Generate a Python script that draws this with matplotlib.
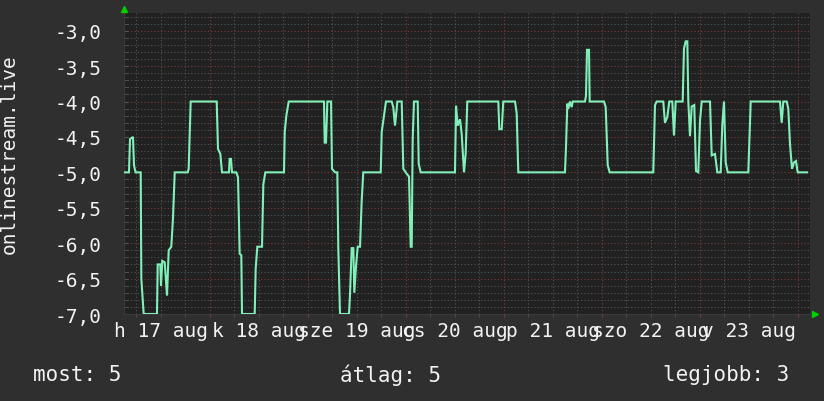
import numpy as np
import matplotlib
matplotlib.use('Agg')
import matplotlib.pyplot as plt
from matplotlib.ticker import MultipleLocator, FixedLocator, NullFormatter
import matplotlib.transforms as mtransforms

# colours (rrdtool dark look)
BG = '#2f2f2f'
CANVAS = '#212121'
LINE = '#80f0b8'
GRID_MINOR = '#555555'
GRID_MAJOR = '#7a3a3a'
TXT = '#f2f2f2'
ARROW = '#00d000'

plt.rcParams['font.family'] = ['DejaVu Sans Mono']

# data: hours since start of graph (start = 17 aug 02:56), value
START_H = 2.94
hours = [0.24, 1.22, 1.47, 2.2, 2.45, 2.82, 4.09, 4.24, 4.82, 8.08, 8.25, 8.89, 9.06, 9.38,
         9.97, 10.53, 10.95, 11.58, 12.0, 12.42, 15.6, 15.84, 16.33, 22.7, 23.02, 23.59,
         24.0, 25.71, 25.88, 26.2, 26.45, 27.5, 27.92, 28.33, 28.73, 28.9, 32.01, 32.25,
         32.65, 33.8, 34.12, 34.61, 39.18, 39.36, 39.75, 40.34, 48.98, 49.15, 49.47, 49.8,
         50.7, 50.94, 51.68, 52.24, 52.48, 52.9, 55.1, 55.35, 55.76, 56.16, 56.4, 56.82,
         57.23, 57.8, 58.21, 58.6, 62.87, 63.11, 63.67, 64.16, 65.56, 65.95, 66.37, 66.79,
         66.93, 68.01, 68.4, 69.23, 69.8, 70.21, 70.46, 70.7, 71.02, 71.93, 72.17, 72.66,
         81.06, 81.31, 81.72, 82.29, 82.7, 83.27, 83.67, 84.07, 91.67, 91.91, 92.5, 92.89,
         95.76, 96.17, 96.56, 108.0, 108.24, 108.57, 108.81, 109.22, 109.64, 109.89, 112.9,
         113.14, 113.39, 113.88, 114.05, 117.55, 117.97, 118.46, 118.95, 129.62, 130.04,
         130.45, 132.07, 132.48, 133.05, 133.54, 134.28, 134.69, 135.11, 136.82, 137.14,
         137.56, 137.95, 138.2, 138.61, 139.03, 139.66, 140.08, 140.64, 141.06, 141.48,
         143.51, 143.93, 144.73, 145.3, 146.13, 146.52, 146.94, 147.36, 147.85, 152.89,
         153.14, 153.48, 160.65, 161.07, 161.46, 162.29, 162.68, 163.1, 163.59, 164.08,
         164.57, 164.99, 167.27]
values = [-5.0, -5.0, -4.53, -4.5, -4.9, -5.0, -5.0, -6.5, -7.0, -7.0, -6.3, -6.3, -6.6, -6.25,
          -6.27, -6.74, -6.1, -6.05, -5.65, -5.0, -5.0, -4.95, -4.0, -4.0, -4.67, -4.74,
          -5.0, -5.0, -4.81, -4.81, -5.0, -5.0, -5.07, -6.15, -6.17, -7.0, -7.0, -6.36,
          -6.05, -6.05, -5.17, -5.0, -5.0, -4.43, -4.2, -4.0, -4.0, -4.58, -4.58, -4.0,
          -4.0, -4.95, -5.0, -5.0, -6.07, -7.0, -7.0, -6.72, -6.07, -6.07, -6.7, -6.32,
          -6.05, -6.05, -5.4, -5.0, -5.0, -4.43, -4.2, -4.0, -4.0, -4.08, -4.34, -4.1,
          -4.0, -4.0, -4.95, -5.02, -5.06, -6.05, -6.05, -4.53, -4.0, -4.0, -4.88, -5.0,
          -5.0, -4.06, -4.34, -4.25, -4.46, -5.0, -4.74, -4.0, -4.0, -4.39, -4.39, -4.0,
          -4.0, -4.17, -5.0, -5.0, -4.65, -4.03, -4.1, -4.0, -4.08, -4.0, -4.0,
          -3.92, -3.27, -3.27, -4.0, -4.0, -4.08, -4.9, -5.0, -5.0, -4.05,
          -4.0, -4.0, -4.3, -4.22, -4.0, -4.0, -4.48, -4.0, -4.0, -3.25,
          -3.15, -3.15, -4.0, -4.49, -4.07, -4.05, -4.98, -5.0, -4.27, -4.0,
          -4.0, -4.76, -4.74, -5.0, -5.0, -4.33, -4.0, -4.86, -5.0, -5.0,
          -4.58, -4.0, -4.0, -4.3, -4.0, -4.0, -4.1, -4.6, -4.95, -4.86,
          -4.84, -5.0, -5.0]

day_labels = ['h 17 aug', 'k 18 aug', 'sze 19 aug', 'cs 20 aug',
              'p 21 aug', 'szo 22 aug', 'v 23 aug']
legend_texts = ['most: 5', 'átlag: 5', 'legjobb: 3']

W, H = 824, 402
fig = plt.figure(figsize=(W / 100, H / 100), dpi=100, facecolor=BG)
ax = fig.add_axes([124 / W, 1 - 315 / H, (810 - 124) / W, (315 - 14) / H])
ax.set_facecolor(CANVAS)

x = np.array(hours) + START_H
ax.plot(x, values, color=LINE, lw=1.5, solid_joinstyle='miter', zorder=3)

ax.set_xlim(START_H, START_H + 168)
ax.set_ylim(-7.0, -2.75)

# grid
ax.xaxis.set_major_locator(MultipleLocator(24))
ax.xaxis.set_minor_locator(MultipleLocator(6))
ax.xaxis.set_major_formatter(NullFormatter())
ax.yaxis.set_major_locator(FixedLocator(np.arange(-7.0, -2.9, 0.5)))
ax.yaxis.set_minor_locator(MultipleLocator(0.1))
ax.set_yticklabels([('%.1f' % v).replace('.', ',') for v in np.arange(-7.0, -2.9, 0.5)])
ax.grid(which='minor', color=GRID_MINOR, linestyle=(0, (1, 2)), lw=0.8)
ax.grid(which='major', color=GRID_MAJOR, linestyle=(0, (1, 2)), lw=0.8)
ax.set_axisbelow(True)

ax.tick_params(axis='y', which='both', colors=GRID_MINOR, labelcolor=TXT,
               labelsize=14, direction='in', length=3, pad=16)
ax.tick_params(axis='x', which='both', colors=GRID_MINOR, direction='out', length=2)
ax.tick_params(axis='x', which='major', colors=GRID_MAJOR)

for s in ['top', 'right']:
    ax.spines[s].set_visible(False)
for s in ['left', 'bottom']:
    ax.spines[s].set_color('#3a3a3a')

# day labels at noon
trans = mtransforms.blended_transform_factory(ax.transData, ax.transAxes)
for i, lab in enumerate(day_labels):
    ax.text(12 + 24 * i, -0.055, lab, transform=trans, ha='center', va='center',
            color=TXT, fontsize=14, clip_on=False)

ax.set_ylabel('onlinestream.live', color=TXT, fontsize=14)
ax.yaxis.set_label_coords(-0.153, 0.535)

# arrows at axis ends
fig.add_artist(plt.Line2D([124 / W], [1 - 10 / H], marker='^', ms=5, color=ARROW, lw=0))
fig.add_artist(plt.Line2D([815 / W], [1 - 315 / H], marker='>', ms=5, color=ARROW, lw=0))

# legend line
fig.text(33 / W, 1 - 375 / H, legend_texts[0], color=TXT, fontsize=15, va='center')
fig.text(340 / W, 1 - 375 / H, legend_texts[1], color=TXT, fontsize=15, va='center')
fig.text(663 / W, 1 - 375 / H, legend_texts[2], color=TXT, fontsize=15, va='center')

fig.savefig('out.png', dpi=100, facecolor=BG)
